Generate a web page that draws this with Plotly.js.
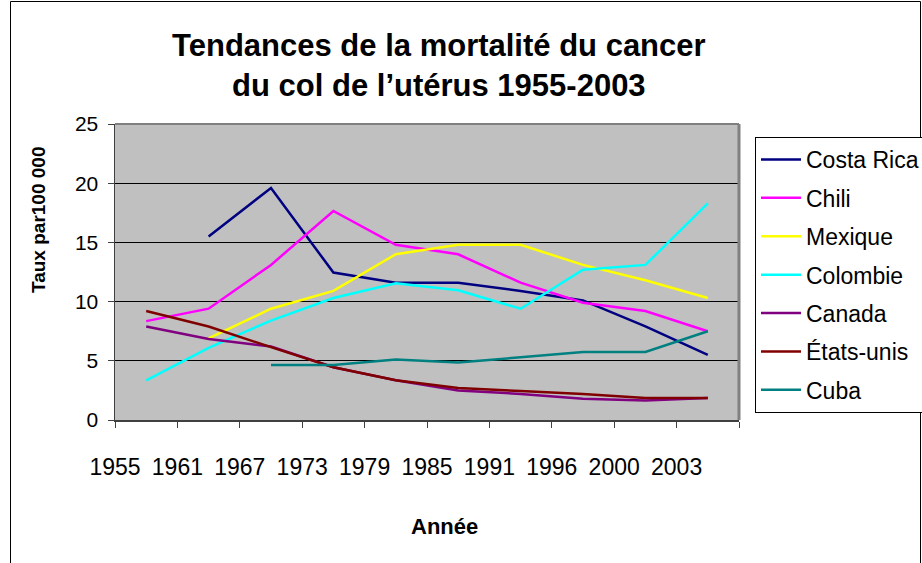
<!DOCTYPE html>
<html>
<head>
<meta charset="utf-8">
<script src="https://cdn.plot.ly/plotly-3.0.1.min.js"></script>
<style>html,body{margin:0;padding:0;background:#fff;}#chart{width:922px;height:563px;}</style>
</head>
<body>
<div id="chart"></div>
<script>
var years = ["1955","1961","1967","1973","1979","1985","1991","1996","2000","2003"];
var costaRica = [null, 15.5, 19.6, 12.45, 11.6, 11.6, 10.9, 10.1, 7.9, 5.5];
var chili     = [8.35, 9.4, 13.1, 17.65, 14.8, 14.0, 11.6, 9.9, 9.2, 7.5];
var mexique   = [null, 6.9, 9.4, 10.9, 14.0, 14.8, 14.8, 13.1, 11.8, 10.3];
var colombie  = [3.35, 6.1, 8.4, 10.3, 11.55, 10.95, 9.4, 12.7, 13.1, 18.3];
var canada    = [7.9, 6.85, 6.2, 4.45, 3.35, 2.5, 2.2, 1.8, 1.65, 1.85];
var etatsUnis = [9.2, 7.9, 6.15, 4.45, 3.35, 2.7, 2.45, 2.2, 1.85, 1.85];
var cuba      = [null, null, 4.65, 4.65, 5.1, 4.85, 5.3, 5.75, 5.75, 7.5];

var names  = ["Costa Rica","Chili","Mexique","Colombie","Canada","États-unis","Cuba"];
var series = [costaRica, chili, mexique, colombie, canada, etatsUnis, cuba];
var colors = ["#000080","#FF00FF","#FFFF00","#00FFFF","#800080","#800000","#008080"];

// data points sit in the middle of each category band
var xs = years.map(function(_, i){ return i + 0.5; });

var FONT = "Liberation Sans, Arial, sans-serif";

var traces = series.map(function(s, k){
  return {
    x: xs, y: s, name: names[k], type: "scatter", mode: "lines",
    line: {color: colors[k], width: 2.5},
    connectgaps: false, legendgroup: "g" + k
  };
});

var tickvals = years.map(function(_, i){ return i; }).concat([years.length]);
var ticktext = years.concat([""]);

function px2x(p){ return (p - 115) / 624; }
function px2y(p){ return (420 - p) / 296; }

var layout = {
  width: 922, height: 563,
  margin: {l: 115, r: 183, t: 124, b: 143, autoexpand: false},
  paper_bgcolor: "#ffffff",
  plot_bgcolor: "#C0C0C0",
  font: {family: FONT, color: "#000", size: 22},
  showlegend: true,
  title: {
    text: "Tendances de la mortalité du cancer<br>du col de l’utérus 1955-2003",
    font: {family: FONT, size: 31, weight: "bold", color: "#000"},
    xref: "container", x: 0.476, xanchor: "center",
    yref: "container", y: 1 - 56/563, yanchor: "top"
  },
  xaxis: {
    range: [0, years.length], tickmode: "array", tickvals: tickvals, ticktext: ticktext,
    showgrid: false, zeroline: false, showline: true, linecolor: "#404040", linewidth: 1.5,
    ticks: "outside", ticklen: 6, tickcolor: "#404040",
    tickfont: {family: FONT, size: 23, color: "#000"},
    ticklabelstandoff: 20, fixedrange: true, automargin: false
  },
  yaxis: {
    range: [0, 25], dtick: 5, tick0: 0,
    showgrid: true, gridcolor: "#000000", gridwidth: 1, zeroline: false,
    showline: true, linecolor: "#404040", linewidth: 1.5,
    ticks: "outside", ticklen: 6, tickcolor: "#404040",
    tickfont: {family: FONT, size: 21, color: "#000"},
    ticklabelstandoff: 5, fixedrange: true, automargin: false
  },
  legend: {
    xref: "container", yref: "container",
    x: 755/922, y: 1 - 137/563, xanchor: "left", yanchor: "top",
    bgcolor: "#ffffff", bordercolor: "#000000", borderwidth: 1,
    font: {family: FONT, size: 23, color: "#000"},
    tracegroupgap: 5.5, traceorder: "grouped", itemwidth: 40
  },
  shapes: [
    {type: "line", xref: "paper", yref: "paper", x0: 0, x1: 1, y0: 1, y1: 1, line: {color: "#808080", width: 2}},
    {type: "line", xref: "paper", yref: "paper", x0: 1, x1: 1, y0: 0, y1: 1, line: {color: "#808080", width: 3}},
    {type: "rect", xref: "paper", yref: "paper", x0: px2x(10.5), x1: px2x(920.5), y0: px2y(600), y1: px2y(1.5), line: {color: "#000", width: 1}}
  ],
  annotations: [
    {text: "Taux par100 000", textangle: -90, xref: "paper", yref: "paper",
     x: px2x(38), y: px2y(220), xanchor: "center", yanchor: "middle", showarrow: false,
     font: {family: FONT, size: 19, weight: "bold", color: "#000"}},
    {text: "Année", xref: "paper", yref: "paper",
     x: px2x(444), y: px2y(526), xanchor: "center", yanchor: "middle", showarrow: false,
     font: {family: FONT, size: 22, weight: "bold", color: "#000"}}
  ]
};

Plotly.newPlot("chart", traces, layout, {staticPlot: true, displayModeBar: false});
</script>
</body>
</html>
